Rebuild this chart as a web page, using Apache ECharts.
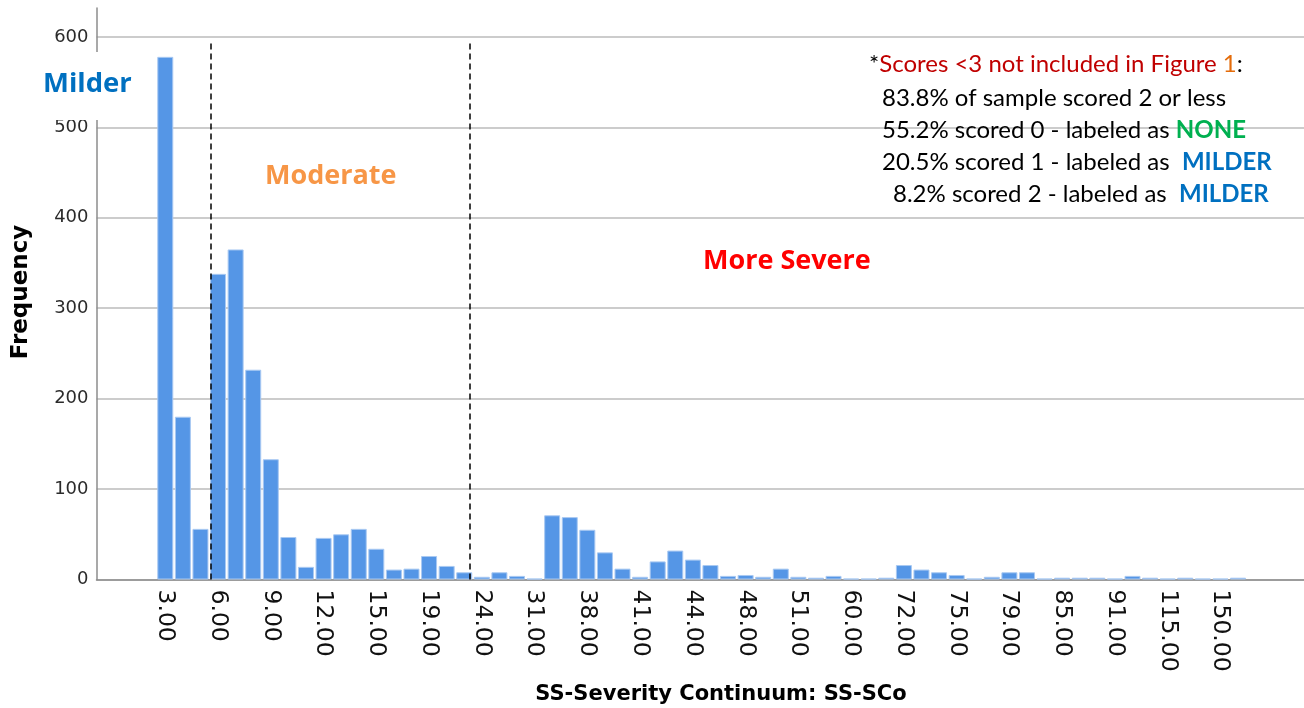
<!DOCTYPE html>
<html>
<head>
<meta charset="utf-8">
<script src="https://cdn.jsdelivr.net/npm/echarts@6/dist/echarts.min.js"></script>
<style>
html,body{margin:0;padding:0;background:#fff;}
#chart{width:1304px;height:708px;}
</style>
</head>
<body>
<div id="chart"></div>
<script>
// Score categories (observed SS-SCo values), every 3rd one is labelled
const categories = ['3','4','5','6','7','8','9','10','11','12','13','14','15','16','18','19','20','22','24','26',
  '28','31','35','36','38','39','40','41','42','43','44','45','46','48','49','50','51','54','57','60',
  '63','66','72','73','74','75','76','78','79','80','82','85','87','89','91','96','105','115','120','130',
  '150','165'];
// Frequency of each category
const frequencies = [578,180,56,338,365,232,133,47,14,46,50,56,34,11,12,26,15,8,3,8,
  4,1,71,69,55,30,12,3,20,32,22,16,4,5,3,12,3,2,4,1,
  1,2,16,11,8,5,1,3,8,8,1,2,2,2,1,4,2,1,2,1,
  1,2];
const yTicks = [0,100,200,300,400,500,600];
// Cut-off positions (in category-band units) of the dashed lines
const cutoffs = [3.1, 17.8];

const chart = echarts.init(document.getElementById('chart'), null, {renderer:'canvas'});

const axisGray = '#8c8c8c';
const noteFont = '24px Lato';
const noteBold = 'bold 24px Lato';
const option = {
  animation: false,
  backgroundColor: '#fff',
  grid: [
    {left: 96.5, right: -3, top: 8, bottom: 128.5, outerBoundsMode: 'none'},
    {left: 156.5, right: 57.2, top: 8, bottom: 128.5, outerBoundsMode: 'none'}
  ],
  xAxis: [
    {gridIndex: 0, type: 'value', min: 0, max: 1,
     axisLine: {show: true, onZero: false, lineStyle: {color: axisGray, width: 1.5}},
     axisTick: {show: false}, axisLabel: {show: false}, splitLine: {show: false}},
    {gridIndex: 1, type: 'category', data: categories,
     axisLine: {show: false}, axisTick: {show: false},
     axisLabel: {interval: 2, rotate: -90, fontSize: 23.5, fontFamily: 'DejaVu Sans', color: '#111', margin: 10,
       formatter: v => Number(v).toFixed(2)}},
    {gridIndex: 1, type: 'value', min: 0, max: categories.length, show: false}
  ],
  yAxis: [
    {gridIndex: 0, type: 'value', min: 0, max: 632, interval: 100,
     axisLine: {show: true, lineStyle: {color: axisGray, width: 1.5}},
     axisTick: {show: false},
     axisLabel: {fontSize: 18, fontFamily: 'DejaVu Sans', color: '#2b2b2b', margin: 8, showMaxLabel: false,
       formatter: v => (yTicks.indexOf(v) >= 0 ? String(v) : '')},
     splitLine: {show: true, showMaxLine: false, lineStyle: {color: '#cccccc', width: 2}}},
    {gridIndex: 1, type: 'value', min: 0, max: 632, show: false}
  ],
  series: [
    {type: 'bar', xAxisIndex: 1, yAxisIndex: 1, data: frequencies, barWidth: '91%',
     itemStyle: {color: '#5596e6', borderColor: '#a9c9f2', borderWidth: 1}},
    {type: 'line', xAxisIndex: 2, yAxisIndex: 1, data: [], symbol: 'none', silent: true,
     markLine: {silent: true, symbol: ['none','none'], label: {show: false},
       lineStyle: {type: [6,4], color: '#000', width: 1.5},
       data: cutoffs.map(c => [{coord: [c, 0]}, {coord: [c, 595]}])}}
  ],
  graphic: [
    {type: 'rect', z: 100, shape: {x: 36, y: 52, width: 70, height: 68}, style: {fill: '#fff'}},
    {type: 'text', z: 101, x: 43, y: 84, style: {text: 'Milder', font: 'bold 27.5px "Open Sans"', fill: '#0070c0', align: 'left', verticalAlign: 'middle'}},
    {type: 'text', z: 101, x: 265, y: 176, style: {text: 'Moderate', font: 'bold 27px "Open Sans"', fill: '#f79646', align: 'left', verticalAlign: 'middle'}},
    {type: 'text', z: 101, x: 703, y: 261, style: {text: 'More Severe', font: 'bold 27px "Open Sans"', fill: '#ff0000', align: 'left', verticalAlign: 'middle'}},
    {type: 'text', z: 101, x: 21, y: 292, rotation: Math.PI/2,
     style: {text: 'Frequency', font: 'bold 23px "DejaVu Sans"', fill: '#000', align: 'center', verticalAlign: 'middle'}},
    {type: 'text', z: 101, x: 721, y: 695,
     style: {text: 'SS-Severity Continuum: SS-SCo', font: 'bold 21px "DejaVu Sans"', fill: '#000', align: 'center', verticalAlign: 'middle'}},
    {type: 'text', z: 101, x: 869, y: 64,
     style: {text: '{k|*}{r|Scores <3 not included in Figure }{o|1}{k|:}', align: 'left', verticalAlign: 'middle',
       rich: {k: {font: noteFont, fill: '#000'}, r: {font: noteFont, fill: '#c00000'}, o: {font: noteFont, fill: '#e46c0a'}}}},
    {type: 'text', z: 101, x: 882, y: 98,
     style: {text: '83.8% of sample scored 2 or less', font: noteFont, fill: '#000', align: 'left', verticalAlign: 'middle'}},
    {type: 'text', z: 101, x: 882, y: 130,
     style: {text: '{k|55.2% scored 0 - labeled as }{g|NONE}', align: 'left', verticalAlign: 'middle',
       rich: {k: {font: noteFont, fill: '#000'}, g: {font: noteBold, fill: '#00b050'}}}},
    {type: 'text', z: 101, x: 882, y: 162,
     style: {text: '{k|20.5% scored 1 - labeled as  }{b|MILDER}', align: 'left', verticalAlign: 'middle',
       rich: {k: {font: noteFont, fill: '#000'}, b: {font: noteBold, fill: '#0070c0'}}}},
    {type: 'text', z: 101, x: 893, y: 194,
     style: {text: '{k|8.2% scored 2 - labeled as  }{b|MILDER}', align: 'left', verticalAlign: 'middle',
       rich: {k: {font: noteFont, fill: '#000'}, b: {font: noteBold, fill: '#0070c0'}}}}
  ]
};
chart.setOption(option);
</script>
</body>
</html>
